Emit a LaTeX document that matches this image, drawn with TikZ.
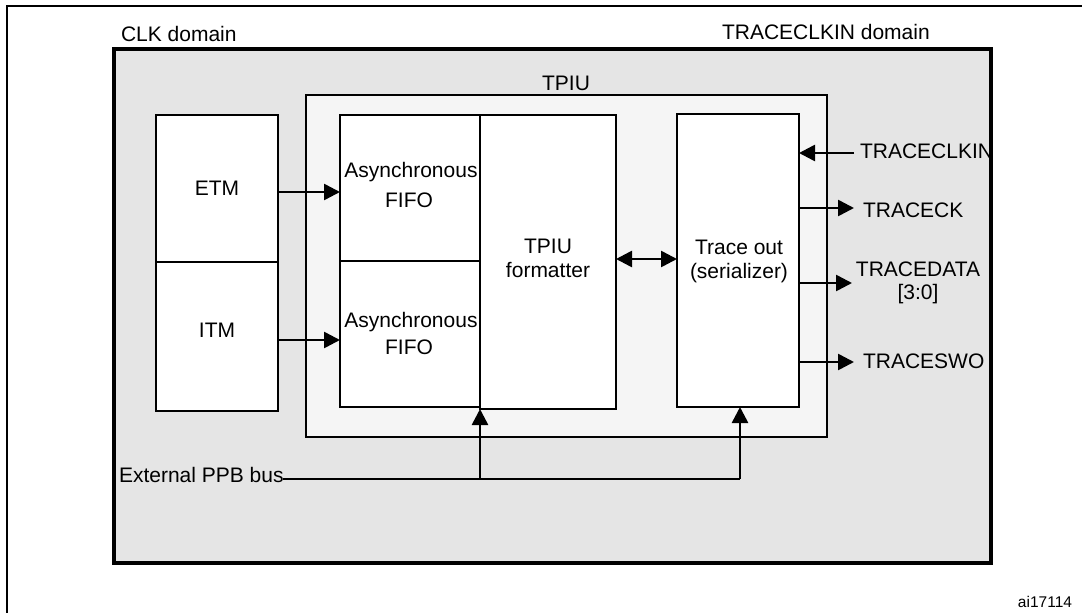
\documentclass[tikz,border=0pt]{standalone}
\usepackage{fontspec}
\setmainfont{Liberation Sans}
\usetikzlibrary{arrows.meta,fit}
\definecolor{domaingray}{HTML}{E5E5E5}
\definecolor{tpiugray}{HTML}{F5F5F5}
\tikzset{
  x=1pt, y=-1pt,
  lbl/.style={font=\fontsize{21}{25}\selectfont, inner sep=0pt, outer sep=0pt},
  smalllbl/.style={font=\fontsize{15.5}{18}\selectfont, inner sep=0pt, outer sep=0pt},
  blockbox/.style={draw, line width=2.7pt, fill=white, inner sep=0pt, outer sep=0pt},
  tpiubox/.style={draw, line width=2pt, fill=tpiugray, inner sep=0pt, outer sep=0pt},
  domainbox/.style={draw, line width=3.3pt, fill=domaingray, inner sep=0pt, outer sep=0pt},
  wire/.style={line width=2.6pt},
  arr/.style={line width=2.6pt, -{Triangle[length=16pt,width=16pt]}},
  darr/.style={line width=2.6pt, {Triangle[length=16pt,width=16pt]}-{Triangle[length=16pt,width=16pt]}},
}
\begin{document}
\begin{tikzpicture}
\useasboundingbox (0,0) rectangle (1082,613);
% outer frame
\draw[line width=2pt] (7,613) -- (7,6) -- (1082,6);

% corner points
\coordinate (gA) at (114,49);  \coordinate (gB) at (991,563);
\coordinate (tA) at (306,95);  \coordinate (tB) at (827,437);
\coordinate (eA) at (156,115); \coordinate (eB) at (278,262);
\coordinate (iA) at (156,262); \coordinate (iB) at (278,411);
\coordinate (fAa) at (340,115); \coordinate (fAb) at (480,261);
\coordinate (fBa) at (340,261); \coordinate (fBb) at (480,407);
\coordinate (mA) at (480,115); \coordinate (mB) at (616,409);
\coordinate (rA) at (677,114); \coordinate (rB) at (799,407);

\node[domainbox, fit=(gA)(gB)] (domain) {};
\node[tpiubox, fit=(tA)(tB)] (tpiu) {};
\node[blockbox, fit=(eA)(eB)] (etm) {};
\node[blockbox, fit=(iA)(iB)] (itm) {};
\node[blockbox, fit=(fAa)(fAb)] (fifoA) {};
\node[blockbox, fit=(fBa)(fBb)] (fifoB) {};
\node[blockbox, fit=(mA)(mB)] (fmt) {};
\node[blockbox, fit=(rA)(rB)] (trace) {};

% labels
\node[lbl, anchor=base west] (clkdom) at (121,41) {CLK domain};
\node[lbl, anchor=base west] (trdom) at (722,39) {TRACECLKIN domain};
\node[lbl, anchor=base] (tpiulbl) at (566,90) {TPIU};
\node[lbl, anchor=base] (etmtxt) at (217,195) {ETM};
\node[lbl, anchor=base] (itmtxt) at (217,337) {ITM};
\node[lbl, anchor=base] (fAt1) at (411,177) {Asynchronous};
\node[lbl, anchor=base] (fAt2) at (409,207) {FIFO};
\node[lbl, anchor=base] (fBt1) at (411,327) {Asynchronous};
\node[lbl, anchor=base] (fBt2) at (409,354) {FIFO};
\node[lbl, anchor=base] (mt1) at (548,253) {TPIU};
\node[lbl, anchor=base] (mt2) at (548,277) {formatter};
\node[lbl, anchor=base] (rt1) at (739,254) {Trace out};
\node[lbl, anchor=base] (rt2) at (739,278) {(serializer)};
\node[lbl, anchor=base west] (sclkin) at (860,158) {TRACECLKIN};
\node[lbl, anchor=base west] (sck) at (863,217) {TRACECK};
\node[lbl, anchor=base] (sdata1) at (918,276) {TRACEDATA};
\node[lbl, anchor=base] (sdata2) at (918,299) {[3:0]};
\node[lbl, anchor=base west] (sswo) at (863,368) {TRACESWO};
\node[lbl, anchor=base west] (ppb) at (119,482) {External PPB bus};
\node[smalllbl, anchor=base east] (fig) at (1072,607) {ai17114};

% redraw domain border on top (covers the end of TRACECLKIN)
\draw[line width=3.3pt] (gA) rectangle (gB);
% formatter/FIFO boundary drawn over the text
\draw[line width=2.7pt] (fmt.north west) -- (fmt.south west);

% connectors
\coordinate (etmy) at (0,192);
\coordinate (itmy) at (0,340);
\draw[arr] (etm.east |- etmy) -- (fifoA.west |- etmy);
\draw[arr] (itm.east |- itmy) -- (fifoB.west |- itmy);
\coordinate (linky) at (0,259);
\draw[darr] (fmt.east |- linky) -- (trace.west |- linky);

\coordinate (clkinend) at (854,153);
\coordinate (ckend) at (854,208);
\coordinate (dataend) at (852,283);
\coordinate (swoend) at (854,362);
\draw[arr] (clkinend) -- (clkinend -| trace.east);
\draw[arr] (ckend -| trace.east) -- (ckend);
\draw[arr] (dataend -| trace.east) -- (dataend);
\draw[arr] (swoend -| trace.east) -- (swoend);

\coordinate (bus1) at (283,479);
\coordinate (bus2) at (740,479);
\draw[wire] (bus1) -- (bus2);
\draw[arr] (bus2) -- (bus2 |- trace.south);
\draw[arr] (fmt.south west |- bus1) -- (fmt.south west);
\end{tikzpicture}
\end{document}
